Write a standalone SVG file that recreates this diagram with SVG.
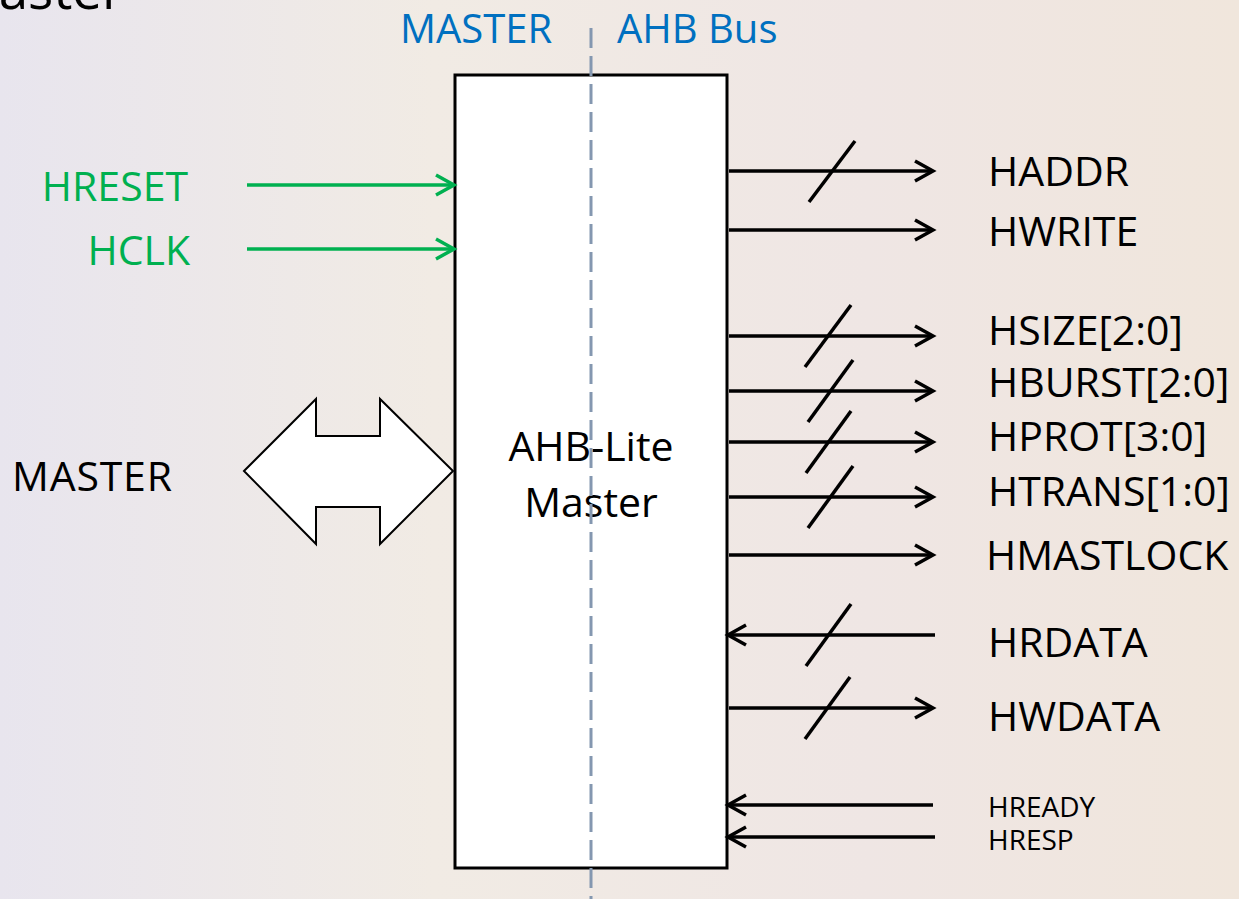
<svg xmlns="http://www.w3.org/2000/svg" width="1239" height="899" viewBox="0 0 1239 899">
  <defs>
    <linearGradient id="bg" x1="0" y1="0" x2="1" y2="0">
      <stop offset="0" stop-color="#e8e5ee"/>
      <stop offset="0.35" stop-color="#f1ebe4"/>
      <stop offset="0.7" stop-color="#efe6e4"/>
      <stop offset="1" stop-color="#f0e6dc"/>
    </linearGradient>
    <marker id="arrB" markerWidth="24" markerHeight="24" refX="20" refY="12" orient="auto" markerUnits="userSpaceOnUse">
      <path d="M2,2 L20,12 L2,22" fill="none" stroke="#000" stroke-width="3.5"/>
    </marker>
    <marker id="arrG" markerWidth="24" markerHeight="24" refX="20" refY="12" orient="auto" markerUnits="userSpaceOnUse">
      <path d="M2,2 L20,12 L2,22" fill="none" stroke="#00b050" stroke-width="3.5"/>
    </marker>
  </defs>
  <style>
    text { font-family: "Open Sans", "Liberation Sans", sans-serif; }
    .lbl { font-size: 41px; fill: #000; }
    .sm { font-size: 28px; fill: #000; }
    .grn { font-size: 41px; fill: #00b050; }
    .blu { font-size: 40px; fill: #0070c0; }
    .sig { stroke: #000; stroke-width: 3.5; fill: none; marker-end: url(#arrB); }
    .gsig { stroke: #00b050; stroke-width: 3.5; fill: none; marker-end: url(#arrG); }
    .slash { stroke: #000; stroke-width: 3.5; }
  </style>
  <rect x="0" y="0" width="1239" height="899" fill="url(#bg)"/>
  <text x="-49" y="9" font-size="53" fill="#000">Master</text>

  <g id="headers">
    <text class="blu" x="400" y="43">MASTER</text>
    <text class="blu" x="617" y="43">AHB Bus</text>
  </g>

  <g id="master-block">
    <rect x="455" y="75" width="272" height="793" fill="#fff" stroke="#000" stroke-width="3"/>
    <text class="lbl" x="591" y="461" text-anchor="middle">AHB-Lite</text>
    <text class="lbl" x="591" y="517" text-anchor="middle">Master</text>
  </g>

  <g id="divider">
    <line x1="591" y1="28" x2="591" y2="899" stroke="#8497b0" stroke-width="3" stroke-dasharray="20 8"/>
  </g>

  <g id="master-port">
    <polygon points="244,471 316,399 316,436 380,436 380,399 453,471 380,544 380,507 316,507 316,544" fill="#fff" stroke="#000" stroke-width="2"/>
    <text class="lbl" x="12" y="491" textLength="160">MASTER</text>
  </g>

  <g id="labels">
    <text class="grn" x="188" y="201" text-anchor="end">HRESET</text>
    <text class="grn" x="190" y="265" text-anchor="end">HCLK</text>
    <text class="lbl" x="988" y="186">HADDR</text>
    <text class="lbl" x="988" y="246">HWRITE</text>
    <text class="lbl" x="988" y="345">HSIZE[2:0]</text>
    <text class="lbl" x="988" y="397">HBURST[2:0]</text>
    <text class="lbl" x="988" y="451">HPROT[3:0]</text>
    <text class="lbl" x="988" y="506">HTRANS[1:0]</text>
    <text class="lbl" x="986" y="570">HMASTLOCK</text>
    <text class="lbl" x="988" y="657">HRDATA</text>
    <text class="lbl" x="988" y="731">HWDATA</text>
    <text class="sm" x="988" y="817">HREADY</text>
    <text class="sm" x="988" y="850">HRESP</text>
  </g>

  <g id="connectors">
    <line class="gsig" x1="247" y1="185" x2="454" y2="185"/>
    <line class="gsig" x1="247" y1="249" x2="454" y2="249"/>
    <line class="sig" x1="729" y1="171" x2="933" y2="171"/>
    <line class="sig" x1="729" y1="230" x2="933" y2="230"/>
    <line class="sig" x1="729" y1="336" x2="933" y2="336"/>
    <line class="sig" x1="729" y1="391" x2="933" y2="391"/>
    <line class="sig" x1="729" y1="442" x2="933" y2="442"/>
    <line class="sig" x1="729" y1="497" x2="933" y2="497"/>
    <line class="sig" x1="729" y1="555" x2="933" y2="555"/>
    <line class="sig" x1="935" y1="635" x2="728" y2="635"/>
    <line class="sig" x1="729" y1="708" x2="933" y2="708"/>
    <line class="sig" x1="933" y1="805" x2="728" y2="805"/>
    <line class="sig" x1="935" y1="837" x2="728" y2="837"/>
    <line class="slash" x1="809" y1="202" x2="855" y2="141"/>
    <line class="slash" x1="805" y1="367" x2="851" y2="305"/>
    <line class="slash" x1="808" y1="422" x2="853" y2="360"/>
    <line class="slash" x1="806" y1="473" x2="851" y2="411"/>
    <line class="slash" x1="808" y1="528" x2="853" y2="466"/>
    <line class="slash" x1="806" y1="666" x2="851" y2="604"/>
    <line class="slash" x1="805" y1="739" x2="850" y2="677"/>
  </g>
</svg>
